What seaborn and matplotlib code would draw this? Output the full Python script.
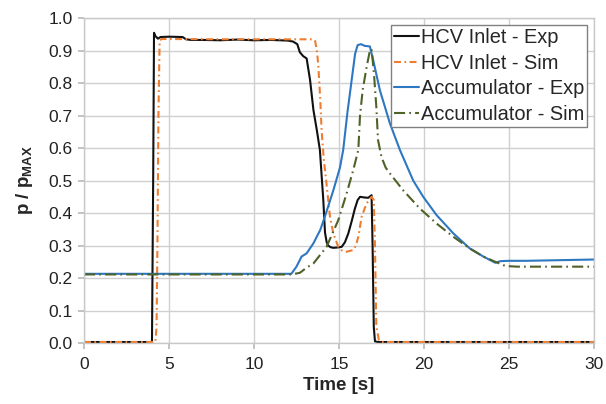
import numpy as np
import pandas as pd
import matplotlib
matplotlib.use('Agg')
import matplotlib.pyplot as plt
import seaborn as sns

# HCV Inlet - Exp
t_hcv_exp = [0, 4.0, 4.07, 4.12, 4.2, 4.35, 4.5, 5.0, 5.8, 6.0, 6.3, 7, 8, 9, 10, 11, 12.0,
             12.3, 12.55, 12.7, 12.9, 13.1, 13.3, 13.5, 13.7, 13.88, 14.08, 14.18, 14.28,
             14.37, 14.5, 14.67, 14.9, 15.16, 15.35, 15.55, 15.75, 15.94, 16.1, 16.24, 16.5,
             16.72, 16.92, 16.98, 17.05, 17.12, 17.3, 30]
v_hcv_exp = [0.003, 0.003, 0.5, 0.955, 0.945, 0.937, 0.942, 0.943, 0.942, 0.935, 0.933, 0.933,
             0.932, 0.934, 0.932, 0.933, 0.931, 0.928, 0.92, 0.895, 0.883, 0.876, 0.81, 0.717,
             0.655, 0.594, 0.44, 0.34, 0.31, 0.30, 0.295, 0.293, 0.294, 0.296, 0.31, 0.337,
             0.375, 0.414, 0.44, 0.45, 0.448, 0.447, 0.455, 0.3, 0.05, 0.005, 0.003, 0.003]

# HCV Inlet - Sim
t_hcv_sim = [0, 4.2, 4.27, 4.32, 4.38, 4.45, 4.55, 8, 12, 13.5, 13.6, 13.7, 13.78, 13.9,
             13.98, 14.1, 14.27, 14.47, 14.67, 14.96, 15.2, 15.45, 15.84, 16.0, 16.14, 16.34,
             16.63, 16.92, 17.05, 17.12, 17.2, 17.35, 17.5, 30]
v_hcv_sim = [0.003, 0.003, 0.05, 0.3, 0.7, 0.93, 0.936, 0.935, 0.935, 0.935, 0.93, 0.9,
             0.86, 0.75, 0.655, 0.57, 0.49, 0.39, 0.3375, 0.296, 0.284, 0.281, 0.286, 0.3,
             0.327, 0.39, 0.43, 0.45, 0.44, 0.3, 0.05, 0.01, 0.003, 0.003]

# Accumulator - Exp
t_acc_exp = [0, 12.2, 12.5, 12.8, 13.1, 13.5, 13.9, 14.18, 14.67, 15.06, 15.25, 15.5, 15.8,
             15.95, 16.1, 16.3, 16.5, 16.82, 17.02, 17.41, 18.0, 18.59, 19.37, 19.96, 20.74,
             21.73, 22.7, 23.5, 24.2, 24.5, 25, 26, 27, 28, 29, 30]
v_acc_exp = [0.213, 0.213, 0.235, 0.266, 0.276, 0.307, 0.348, 0.39, 0.47, 0.54, 0.594, 0.71,
             0.83, 0.89, 0.917, 0.92, 0.915, 0.913, 0.87, 0.778, 0.676, 0.594, 0.50, 0.45,
             0.394, 0.3375, 0.291, 0.266, 0.247, 0.252, 0.253, 0.253, 0.254, 0.255, 0.256, 0.257]

# Accumulator - Sim
t_acc_sim = [0, 12.2, 12.7, 13.1, 13.5, 14.27, 14.96, 15.45, 15.84, 16.14, 16.24, 16.4,
             16.63, 16.82, 16.92, 17.06, 17.2, 17.3, 17.5, 17.75, 18.0, 18.78, 19.76, 20.74,
             21.73, 22.7, 23.5, 24.2, 24.8, 25.5, 30]
v_acc_sim = [0.211, 0.211, 0.216, 0.232, 0.245, 0.296, 0.378, 0.46, 0.532, 0.594, 0.70,
             0.78, 0.85, 0.90, 0.905, 0.83, 0.727, 0.625, 0.573, 0.54, 0.522, 0.47, 0.414,
             0.368, 0.327, 0.291, 0.266, 0.25, 0.237, 0.235, 0.235]

labels = ['HCV Inlet - Exp', 'HCV Inlet - Sim', 'Accumulator - Exp', 'Accumulator - Sim']
colors = ['#111111', '#ED7D31', '#2E78C2', '#4F6228']
series = [(t_hcv_exp, v_hcv_exp), (t_hcv_sim, v_hcv_sim),
          (t_acc_exp, v_acc_exp), (t_acc_sim, v_acc_sim)]

sns.set_theme(style='whitegrid')
plt.rcParams['font.family'] = ['Liberation Sans', 'DejaVu Sans']
plt.rcParams['mathtext.fontset'] = 'custom'
plt.rcParams['mathtext.rm'] = 'Liberation Sans'
plt.rcParams['mathtext.bf'] = 'Liberation Sans:bold'
plt.rcParams['lines.scale_dashes'] = False

fig, ax = plt.subplots(figsize=(6.06, 4.04), dpi=100)
fig.subplots_adjust(left=0.1386, right=0.980, top=0.955, bottom=0.151)

dash_styles = [None, [5, 2.5, 1.2, 2.5], None, [8, 3, 1.2, 3]]
for (t, v), lab, col, ds in zip(series, labels, colors, dash_styles):
    df = pd.DataFrame({'t': t, 'v': v})
    sns.lineplot(data=df, x='t', y='v', ax=ax, color=col, linewidth=1.5,
                 estimator=None, sort=False, label=lab)
    if ds is not None:
        ax.lines[-1].set_dashes(ds)

ax.set_xlim(0, 30)
ax.set_ylim(0, 1.0)
ax.set_xticks(np.arange(0, 31, 5))
ax.set_yticks(np.arange(0, 1.01, 0.1))
ax.set_yticklabels([f'{y:.1f}' for y in np.arange(0, 1.01, 0.1)])
ax.tick_params(labelsize=12.5, colors='#222222', length=4, color='#bbbbbb',
               left=True, bottom=True)
ax.tick_params(axis='x', pad=6)
ax.tick_params(axis='y', pad=4)
ax.grid(True, color='#d0d0d0', linewidth=1)
for s in ax.spines.values():
    s.set_color('#c8c8c8')
    s.set_linewidth(1)

ax.set_xlabel('Time [s]', fontsize=13.5, fontweight='bold', labelpad=4)
ax.set_ylabel(r'p / p$_{\mathbf{MAX}}$', fontsize=13.5, fontweight='bold', labelpad=10)

leg = ax.legend(loc='upper right', fontsize=14.4, frameon=True, fancybox=False,
                framealpha=1, edgecolor='#808080', handlelength=1.25, handletextpad=0.1,
                labelspacing=0.33, borderpad=0.15, borderaxespad=0.35)
leg.get_frame().set_linewidth(1)

fig.savefig('out.png', dpi=100)
